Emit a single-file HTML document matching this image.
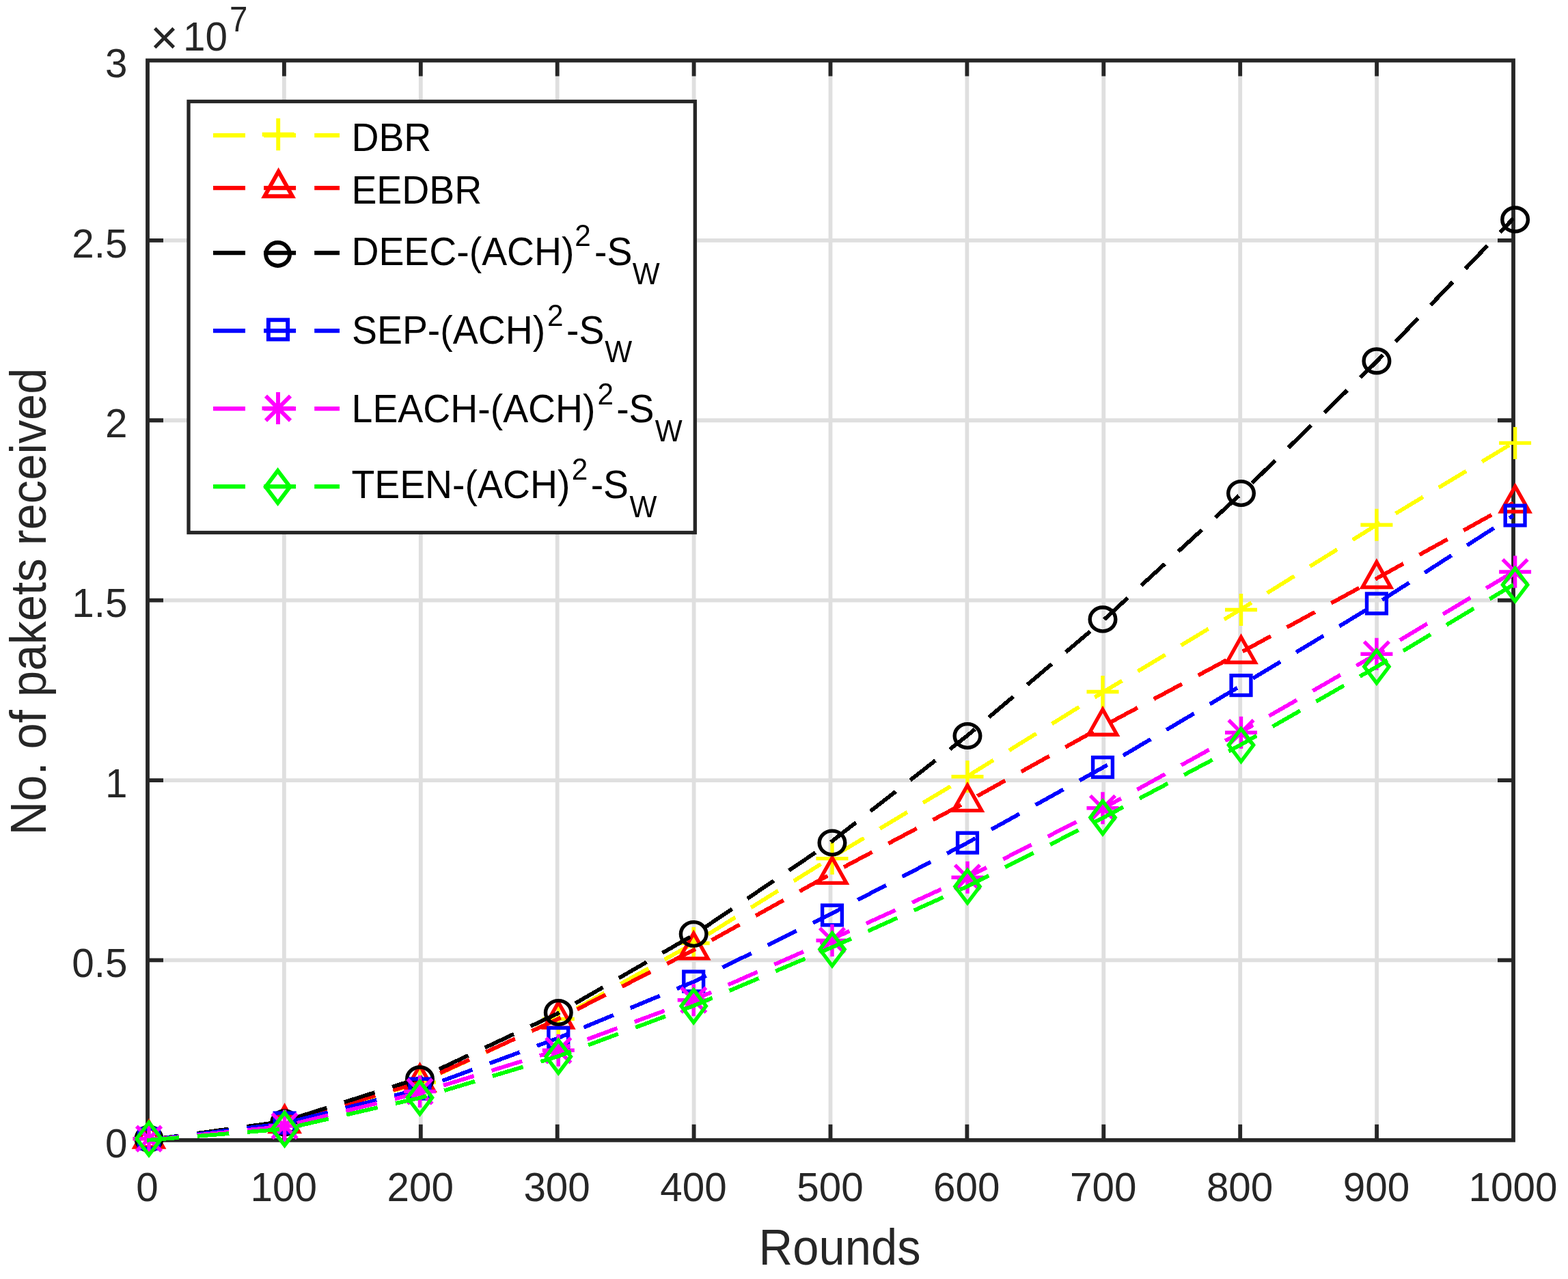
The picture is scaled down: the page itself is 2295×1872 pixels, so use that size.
<!DOCTYPE html>
<html lang="en"><head><meta charset="utf-8"><title>No. of pakets received vs Rounds</title>
<style>html,body{margin:0;padding:0;background:#fff}body{width:2295px;height:1872px;overflow:hidden}svg{display:block}text{font-family:'Liberation Sans', sans-serif;font-kerning:none;font-variant-ligatures:none}</style>
</head><body>
<svg width="2295" height="1872" viewBox="0 0 2295 1872">
<rect width="2295" height="1872" fill="#fff"/>
<defs><clipPath id="ax"><rect x="215" y="88.5" width="2000.6" height="1584.3"/></clipPath></defs>
<path d="M415.9 88.5V1668.8M615.8 88.5V1668.8M815.7 88.5V1668.8M1015.6 88.5V1668.8M1215.5 88.5V1668.8M1415.4 88.5V1668.8M1615.3 88.5V1668.8M1815.2 88.5V1668.8M2015.1 88.5V1668.8M216 1405.42H2215M216 1142.03H2215M216 878.65H2215M216 615.27H2215M216 351.88H2215" stroke="#dfdfdf" stroke-width="5.8" fill="none"/>
<path d="M415.9 1668.8V1645.8M415.9 88.5V111.5M615.8 1668.8V1645.8M615.8 88.5V111.5M815.7 1668.8V1645.8M815.7 88.5V111.5M1015.6 1668.8V1645.8M1015.6 88.5V111.5M1215.5 1668.8V1645.8M1215.5 88.5V111.5M1415.4 1668.8V1645.8M1415.4 88.5V111.5M1615.3 1668.8V1645.8M1615.3 88.5V111.5M1815.2 1668.8V1645.8M1815.2 88.5V111.5M2015.1 1668.8V1645.8M2015.1 88.5V111.5M216 1405.42H239M2215 1405.42H2192M216 1142.03H239M2215 1142.03H2192M216 878.65H239M2215 878.65H2192M216 615.27H239M2215 615.27H2192M216 351.88H239M2215 351.88H2192" stroke="#262626" stroke-width="5.8" fill="none"/>
<rect x="216" y="88.5" width="1999" height="1580.3" fill="none" stroke="#262626" stroke-width="5.8"/>
<g fill="#262626">
<text transform="translate(215.4 1757.6) scale(1 1.022)" font-size="58.4" text-anchor="middle">0</text>
<text transform="translate(415.3 1757.6) scale(1 1.022)" font-size="58.4" text-anchor="middle">100</text>
<text transform="translate(615.2 1757.6) scale(1 1.022)" font-size="58.4" text-anchor="middle">200</text>
<text transform="translate(815.1 1757.6) scale(1 1.022)" font-size="58.4" text-anchor="middle">300</text>
<text transform="translate(1015 1757.6) scale(1 1.022)" font-size="58.4" text-anchor="middle">400</text>
<text transform="translate(1214.9 1757.6) scale(1 1.022)" font-size="58.4" text-anchor="middle">500</text>
<text transform="translate(1414.8 1757.6) scale(1 1.022)" font-size="58.4" text-anchor="middle">600</text>
<text transform="translate(1614.7 1757.6) scale(1 1.022)" font-size="58.4" text-anchor="middle">700</text>
<text transform="translate(1814.6 1757.6) scale(1 1.022)" font-size="58.4" text-anchor="middle">800</text>
<text transform="translate(2014.5 1757.6) scale(1 1.022)" font-size="58.4" text-anchor="middle">900</text>
<text transform="translate(2214.4 1757.6) scale(1 1.022)" font-size="58.4" text-anchor="middle">1000</text>
<text transform="translate(186.4 1693.6) scale(1 1.022)" font-size="58.4" text-anchor="end">0</text>
<text transform="translate(186.4 1430.22) scale(1 1.022)" font-size="58.4" text-anchor="end">0.5</text>
<text transform="translate(186.4 1166.83) scale(1 1.022)" font-size="58.4" text-anchor="end">1</text>
<text transform="translate(186.4 903.45) scale(1 1.022)" font-size="58.4" text-anchor="end">1.5</text>
<text transform="translate(186.4 640.07) scale(1 1.022)" font-size="58.4" text-anchor="end">2</text>
<text transform="translate(186.4 376.68) scale(1 1.022)" font-size="58.4" text-anchor="end">2.5</text>
<text transform="translate(186.4 113.3) scale(1 1.022)" font-size="58.4" text-anchor="end">3</text>
<text transform="translate(220.1 78.8)" font-size="70">×</text>
<text transform="translate(268 74.4) scale(1 1.022)" font-size="58.4">10</text>
<text transform="translate(335.9 46.3) scale(1 1.1)" font-size="47.5">7</text>
<text transform="translate(1110.6 1851.3) scale(1 1.08)" font-size="68.75">Rounds</text>
<text transform="translate(67.2 1222.5) rotate(-90) scale(1 1.08)" font-size="68.75">No. of pakets received</text>
</g>
<g>
<path d="M215.2 1668.9L415.9 1644.5L615.8 1584.5L815.7 1491.5L1015.6 1380.5L1215.5 1256L1415.4 1136.5L1615.3 1012.5L1815.2 892.5L2015.1 768.2L2215 648" shape-rendering="crispEdges" fill="none" stroke="#ffff00" stroke-width="5.8" stroke-dasharray="46.83 26.9" stroke-dashoffset="0" stroke-linejoin="bevel" clip-path="url(#ax)"/>
<path d="M194.5 1666.7H241.5M218 1643.2V1690.2" fill="none" stroke="#ffff00" stroke-width="5.4"/>
<path d="M393.1 1644H440.1M416.6 1620.5V1667.5" fill="none" stroke="#ffff00" stroke-width="5.4"/>
<path d="M591 1584.1H638M614.5 1560.6V1607.6" fill="none" stroke="#ffff00" stroke-width="5.4"/>
<path d="M793.8 1491.4H840.8M817.3 1467.9V1514.9" fill="none" stroke="#ffff00" stroke-width="5.4"/>
<path d="M991.7 1380.5H1038.7M1015.2 1357V1404" fill="none" stroke="#ffff00" stroke-width="5.4"/>
<path d="M1194.5 1256.6H1241.5M1218 1233.1V1280.1" fill="none" stroke="#ffff00" stroke-width="5.4"/>
<path d="M1392.5 1136.7H1439.5M1416 1113.2V1160.2" fill="none" stroke="#ffff00" stroke-width="5.4"/>
<path d="M1590.5 1012.5H1637.5M1614 989V1036" fill="none" stroke="#ffff00" stroke-width="5.4"/>
<path d="M1793 892.5H1840M1816.5 869V916" fill="none" stroke="#ffff00" stroke-width="5.4"/>
<path d="M1991.4 768.2H2038.4M2014.9 744.7V791.7" fill="none" stroke="#ffff00" stroke-width="5.4"/>
<path d="M2194.1 648.4H2241.1M2217.6 624.9V671.9" fill="none" stroke="#ffff00" stroke-width="5.4"/>
</g>
<g>
<path d="M215.2 1668.9L415.9 1643.7L615.8 1583.5L815.7 1492L1015.6 1390.5L1215.5 1279.5L1415.4 1173.5L1615.3 1062.5L1815.2 955.5L2015.1 846.5L2215 736" shape-rendering="crispEdges" fill="none" stroke="#ff0000" stroke-width="5.8" stroke-dasharray="46.83 26.9" stroke-dashoffset="0" stroke-linejoin="bevel" clip-path="url(#ax)"/>
<path d="M218 1642.09L238.79 1679.07H197.21Z" fill="none" stroke="#ff0000" stroke-width="5.4" stroke-miterlimit="10"/>
<path d="M416.6 1619.49L437.39 1656.47H395.81Z" fill="none" stroke="#ff0000" stroke-width="5.4" stroke-miterlimit="10"/>
<path d="M614.5 1559.39L635.29 1596.37H593.71Z" fill="none" stroke="#ff0000" stroke-width="5.4" stroke-miterlimit="10"/>
<path d="M817.3 1467.14L838.09 1504.12H796.51Z" fill="none" stroke="#ff0000" stroke-width="5.4" stroke-miterlimit="10"/>
<path d="M1015.2 1365.89L1035.99 1402.87H994.41Z" fill="none" stroke="#ff0000" stroke-width="5.4" stroke-miterlimit="10"/>
<path d="M1218 1255.39L1238.79 1292.37H1197.21Z" fill="none" stroke="#ff0000" stroke-width="5.4" stroke-miterlimit="10"/>
<path d="M1416 1149.39L1436.79 1186.37H1395.21Z" fill="none" stroke="#ff0000" stroke-width="5.4" stroke-miterlimit="10"/>
<path d="M1614 1038.29L1634.79 1075.27H1593.21Z" fill="none" stroke="#ff0000" stroke-width="5.4" stroke-miterlimit="10"/>
<path d="M1816.5 932.49L1837.29 969.47H1795.71Z" fill="none" stroke="#ff0000" stroke-width="5.4" stroke-miterlimit="10"/>
<path d="M2014.9 822.59L2035.69 859.57H1994.11Z" fill="none" stroke="#ff0000" stroke-width="5.4" stroke-miterlimit="10"/>
<path d="M2217.6 711.89L2238.39 748.87H2196.81Z" fill="none" stroke="#ff0000" stroke-width="5.4" stroke-miterlimit="10"/>
</g>
<g>
<path d="M215.2 1668.91L415.9 1641.3L615.8 1577.5L815.7 1483.7L1015.6 1368.2L1215.5 1233L1415.4 1077L1615.3 907.5L1815.2 724L2015.1 529L2215 319.8" shape-rendering="crispEdges" fill="none" stroke="#000000" stroke-width="5.8" stroke-dasharray="46.83 26.9" stroke-dashoffset="0" stroke-linejoin="bevel" clip-path="url(#ax)"/>
<ellipse cx="218" cy="1666.7" rx="18.8" ry="17.4" fill="none" stroke="#000000" stroke-width="5.4"/>
<ellipse cx="416.6" cy="1643.3" rx="18.8" ry="17.4" fill="none" stroke="#000000" stroke-width="5.4"/>
<ellipse cx="614.5" cy="1579.4" rx="18.8" ry="17.4" fill="none" stroke="#000000" stroke-width="5.4"/>
<ellipse cx="817.3" cy="1482" rx="18.8" ry="17.4" fill="none" stroke="#000000" stroke-width="5.4"/>
<ellipse cx="1015.2" cy="1367" rx="18.8" ry="17.4" fill="none" stroke="#000000" stroke-width="5.4"/>
<ellipse cx="1218" cy="1233.5" rx="18.8" ry="17.4" fill="none" stroke="#000000" stroke-width="5.4"/>
<ellipse cx="1416" cy="1077" rx="18.8" ry="17.4" fill="none" stroke="#000000" stroke-width="5.4"/>
<ellipse cx="1614" cy="906.45" rx="18.8" ry="17.4" fill="none" stroke="#000000" stroke-width="5.4"/>
<ellipse cx="1816.5" cy="722" rx="18.8" ry="17.4" fill="none" stroke="#000000" stroke-width="5.4"/>
<ellipse cx="2014.9" cy="528.4" rx="18.8" ry="17.4" fill="none" stroke="#000000" stroke-width="5.4"/>
<ellipse cx="2217.6" cy="321.4" rx="18.8" ry="17.4" fill="none" stroke="#000000" stroke-width="5.4"/>
</g>
<g>
<path d="M215.2 1668.9L415.9 1644.5L615.8 1593.6L815.7 1519.8L1015.6 1436.8L1215.5 1338L1415.4 1233.8L1615.3 1122.8L1815.2 1004.2L2015.1 883.4L2215 754.5" shape-rendering="crispEdges" fill="none" stroke="#0000ff" stroke-width="5.8" stroke-dasharray="46.83 26.9" stroke-dashoffset="0" stroke-linejoin="bevel" clip-path="url(#ax)"/>
<rect x="203.6" y="1652.3" width="28.8" height="28.8" fill="none" stroke="#0000ff" stroke-width="5.4"/>
<rect x="402.2" y="1629.1" width="28.8" height="28.8" fill="none" stroke="#0000ff" stroke-width="5.4"/>
<rect x="600.1" y="1579.2" width="28.8" height="28.8" fill="none" stroke="#0000ff" stroke-width="5.4"/>
<rect x="802.9" y="1504.5" width="28.8" height="28.8" fill="none" stroke="#0000ff" stroke-width="5.4"/>
<rect x="1000.8" y="1422.1" width="28.8" height="28.8" fill="none" stroke="#0000ff" stroke-width="5.4"/>
<rect x="1203.6" y="1325.1" width="28.8" height="28.8" fill="none" stroke="#0000ff" stroke-width="5.4"/>
<rect x="1401.6" y="1219.2" width="28.8" height="28.8" fill="none" stroke="#0000ff" stroke-width="5.4"/>
<rect x="1599.6" y="1108.6" width="28.8" height="28.8" fill="none" stroke="#0000ff" stroke-width="5.4"/>
<rect x="1802.1" y="988.7" width="28.8" height="28.8" fill="none" stroke="#0000ff" stroke-width="5.4"/>
<rect x="2000.5" y="869" width="28.8" height="28.8" fill="none" stroke="#0000ff" stroke-width="5.4"/>
<rect x="2203.2" y="740.1" width="28.8" height="28.8" fill="none" stroke="#0000ff" stroke-width="5.4"/>
</g>
<g>
<path d="M215.2 1668.88L415.9 1648.5L615.8 1598.8L815.7 1537.3L1015.6 1463.5L1215.5 1375.5L1415.4 1284.3L1615.3 1182.8L1815.2 1072.2L2015.1 957.3L2215 837" shape-rendering="crispEdges" fill="none" stroke="#ff00ff" stroke-width="5.8" stroke-dasharray="46.83 26.9" stroke-dashoffset="0" stroke-linejoin="bevel" clip-path="url(#ax)"/>
<path d="M194.5 1666.7H241.5M218 1643.2V1690.2M199.81 1648.51L236.19 1684.89M199.81 1684.89L236.19 1648.51" fill="none" stroke="#ff00ff" stroke-width="5.4"/>
<path d="M393.1 1648H440.1M416.6 1624.5V1671.5M398.41 1629.81L434.79 1666.19M398.41 1666.19L434.79 1629.81" fill="none" stroke="#ff00ff" stroke-width="5.4"/>
<path d="M591 1597.5H638M614.5 1574V1621M596.31 1579.31L632.69 1615.69M596.31 1615.69L632.69 1579.31" fill="none" stroke="#ff00ff" stroke-width="5.4"/>
<path d="M793.8 1537.3H840.8M817.3 1513.8V1560.8M799.11 1519.11L835.49 1555.49M799.11 1555.49L835.49 1519.11" fill="none" stroke="#ff00ff" stroke-width="5.4"/>
<path d="M991.7 1463.7H1038.7M1015.2 1440.2V1487.2M997.01 1445.51L1033.39 1481.89M997.01 1481.89L1033.39 1445.51" fill="none" stroke="#ff00ff" stroke-width="5.4"/>
<path d="M1194.5 1376.5H1241.5M1218 1353V1400M1199.81 1358.31L1236.19 1394.69M1199.81 1394.69L1236.19 1358.31" fill="none" stroke="#ff00ff" stroke-width="5.4"/>
<path d="M1392.5 1284.3H1439.5M1416 1260.8V1307.8M1397.81 1266.11L1434.19 1302.49M1397.81 1302.49L1434.19 1266.11" fill="none" stroke="#ff00ff" stroke-width="5.4"/>
<path d="M1590.5 1182.8H1637.5M1614 1159.3V1206.3M1595.81 1164.61L1632.19 1200.99M1595.81 1200.99L1632.19 1164.61" fill="none" stroke="#ff00ff" stroke-width="5.4"/>
<path d="M1793 1072.2H1840M1816.5 1048.7V1095.7M1798.31 1054.01L1834.69 1090.39M1798.31 1090.39L1834.69 1054.01" fill="none" stroke="#ff00ff" stroke-width="5.4"/>
<path d="M1991.4 957.3H2038.4M2014.9 933.8V980.8M1996.71 939.11L2033.09 975.49M1996.71 975.49L2033.09 939.11" fill="none" stroke="#ff00ff" stroke-width="5.4"/>
<path d="M2194.1 837H2241.1M2217.6 813.5V860.5M2199.41 818.81L2235.79 855.19M2199.41 855.19L2235.79 818.81" fill="none" stroke="#ff00ff" stroke-width="5.4"/>
</g>
<g>
<path d="M215.2 1668.87L415.9 1652.5L615.8 1606.6L815.7 1546.5L1015.6 1472L1215.5 1387.5L1415.4 1297.6L1615.3 1196.5L1815.2 1090.6L2015.1 975.8L2215 855.9" shape-rendering="crispEdges" fill="none" stroke="#00ff00" stroke-width="5.8" stroke-dasharray="46.83 26.9" stroke-dashoffset="0" stroke-linejoin="bevel" clip-path="url(#ax)"/>
<path d="M218 1642.77L236.11 1666.7L218 1690.63L199.89 1666.7Z" fill="none" stroke="#00ff00" stroke-width="5.4" stroke-miterlimit="10"/>
<path d="M416.6 1628.57L434.71 1652.5L416.6 1676.43L398.49 1652.5Z" fill="none" stroke="#00ff00" stroke-width="5.4" stroke-miterlimit="10"/>
<path d="M614.5 1582.67L632.61 1606.6L614.5 1630.53L596.39 1606.6Z" fill="none" stroke="#00ff00" stroke-width="5.4" stroke-miterlimit="10"/>
<path d="M817.3 1522.57L835.41 1546.5L817.3 1570.43L799.19 1546.5Z" fill="none" stroke="#00ff00" stroke-width="5.4" stroke-miterlimit="10"/>
<path d="M1015.2 1448.67L1033.31 1472.6L1015.2 1496.53L997.09 1472.6Z" fill="none" stroke="#00ff00" stroke-width="5.4" stroke-miterlimit="10"/>
<path d="M1218 1365.67L1236.11 1389.6L1218 1413.53L1199.89 1389.6Z" fill="none" stroke="#00ff00" stroke-width="5.4" stroke-miterlimit="10"/>
<path d="M1416 1273.67L1434.11 1297.6L1416 1321.53L1397.89 1297.6Z" fill="none" stroke="#00ff00" stroke-width="5.4" stroke-miterlimit="10"/>
<path d="M1614 1172.57L1632.11 1196.5L1614 1220.43L1595.89 1196.5Z" fill="none" stroke="#00ff00" stroke-width="5.4" stroke-miterlimit="10"/>
<path d="M1816.5 1066.67L1834.61 1090.6L1816.5 1114.53L1798.39 1090.6Z" fill="none" stroke="#00ff00" stroke-width="5.4" stroke-miterlimit="10"/>
<path d="M2014.9 951.87L2033.01 975.8L2014.9 999.73L1996.79 975.8Z" fill="none" stroke="#00ff00" stroke-width="5.4" stroke-miterlimit="10"/>
<path d="M2217.6 831.97L2235.71 855.9L2217.6 879.83L2199.49 855.9Z" fill="none" stroke="#00ff00" stroke-width="5.4" stroke-miterlimit="10"/>
</g>
<rect x="276.0" y="148.5" width="741.3" height="631" fill="#fff" stroke="#262626" stroke-width="5.3"/>
<g fill="#000">
<text transform="translate(514.4 220.8) scale(1 1.04)" font-size="55.4">DBR</text>
<text transform="translate(514.4 297.8) scale(1 1.04)" font-size="55.4">EEDBR</text>
<text transform="translate(514.4 387.8) scale(1 1.04)" font-size="55.4"><tspan>DEEC-(ACH)</tspan><tspan dx="0.6" dy="-26.92" font-size="42.3">2</tspan><tspan dx="5.3" dy="26.92" font-size="55.4">-S</tspan><tspan dx="0.4" dy="26.92" font-size="42.3">W</tspan></text>
<text transform="translate(515 502.5) scale(1 1.04)" font-size="55.4"><tspan>SEP-(ACH)</tspan><tspan dx="3.0" dy="-24.81" font-size="42.3">2</tspan><tspan dx="4.4" dy="24.81" font-size="55.4">-S</tspan><tspan dx="0.8" dy="26.73" font-size="42.3">W</tspan></text>
<text transform="translate(514.6 617.5) scale(1 1.04)" font-size="55.4"><tspan>LEACH-(ACH)</tspan><tspan dx="3.0" dy="-25" font-size="42.3">2</tspan><tspan dx="4.1" dy="25" font-size="55.4">-S</tspan><tspan dx="1.2" dy="26.92" font-size="42.3">W</tspan></text>
<text transform="translate(514.4 728.6) scale(1 1.04)" font-size="55.4"><tspan>TEEN-(ACH)</tspan><tspan dx="2.4" dy="-25.77" font-size="42.3">2</tspan><tspan dx="4.4" dy="25.77" font-size="55.4">-S</tspan><tspan dx="1.4" dy="26.92" font-size="42.3">W</tspan></text>
</g>
<path d="M312 198H497" fill="none" stroke="#ffff00" stroke-width="6.25" stroke-dasharray="47 27.1"/>
<path d="M383.7 196.7H430.7M407.2 173.2V220.2" fill="none" stroke="#ffff00" stroke-width="5.9"/>
<path d="M312 275.1H497" fill="none" stroke="#ff0000" stroke-width="6.25" stroke-dasharray="47 27.1"/>
<path d="M407.6 251L427.96 287.22H387.24Z" fill="none" stroke="#ff0000" stroke-width="5.9" stroke-miterlimit="10"/>
<path d="M312 370H497" fill="none" stroke="#000000" stroke-width="6.25" stroke-dasharray="47 27.1"/>
<ellipse cx="406.6" cy="372" rx="17.45" ry="16.95" fill="none" stroke="#000000" stroke-width="5.9"/>
<path d="M312 484H497" fill="none" stroke="#0000ff" stroke-width="6.25" stroke-dasharray="47 27.1"/>
<rect x="392.85" y="468.25" width="28.3" height="28.3" fill="none" stroke="#0000ff" stroke-width="5.9"/>
<path d="M312 598H497" fill="none" stroke="#ff00ff" stroke-width="6.25" stroke-dasharray="47 27.1"/>
<path d="M383.5 597.6H430.5M407 574.1V621.1M388.99 579.59L425.01 615.61M388.99 615.61L425.01 579.59" fill="none" stroke="#ff00ff" stroke-width="5.9"/>
<path d="M312 712H497" fill="none" stroke="#00ff00" stroke-width="6.25" stroke-dasharray="47 27.1"/>
<path d="M406.6 688.99L424.4 712.5L406.6 736.01L388.8 712.5Z" fill="none" stroke="#00ff00" stroke-width="5.9" stroke-miterlimit="10"/>
</svg>
</body></html>
